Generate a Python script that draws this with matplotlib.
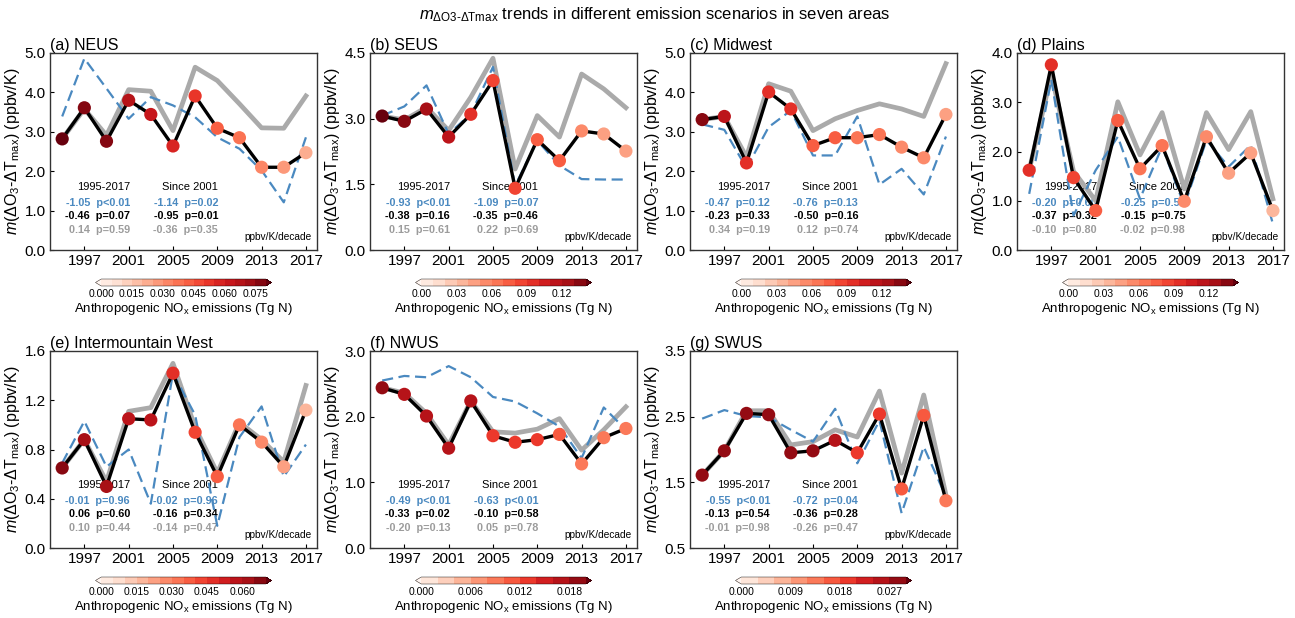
import numpy as np
import matplotlib
matplotlib.use('Agg')
import matplotlib.pyplot as plt
from matplotlib.colors import BoundaryNorm

plt.rcParams['font.family'] = ['Liberation Sans', 'DejaVu Sans']
plt.rcParams['mathtext.fontset'] = 'custom'
plt.rcParams['mathtext.rm'] = 'Liberation Sans'
plt.rcParams['mathtext.it'] = 'Liberation Sans:italic'
plt.rcParams['mathtext.bf'] = 'Liberation Sans:bold'

years = [1995, 1997, 1999, 2001, 2003, 2005, 2007, 2009, 2011, 2013, 2015, 2017]
xticks = [1997, 2001, 2005, 2009, 2013, 2017]

titles = ['(a) NEUS', '(b) SEUS', '(c) Midwest', '(d) Plains',
          '(e) Intermountain West', '(f) NWUS', '(g) SWUS']

# black line with markers (base scenario)
black = [
    [2.82, 3.61, 2.76, 3.80, 3.44, 2.64, 3.91, 3.09, 2.85, 2.10, 2.10, 2.47],
    [3.06, 2.94, 3.22, 2.58, 3.10, 3.87, 1.41, 2.52, 2.04, 2.72, 2.65, 2.26],
    [3.31, 3.39, 2.21, 4.01, 3.58, 2.65, 2.85, 2.85, 2.93, 2.61, 2.34, 3.44],
    [1.62, 3.76, 1.47, 0.80, 2.63, 1.65, 2.12, 0.99, 2.30, 1.56, 1.97, 0.80],
    [0.65, 0.88, 0.50, 1.05, 1.04, 1.42, 0.94, 0.58, 1.00, 0.86, 0.66, 1.12],
    [2.44, 2.34, 2.01, 1.52, 2.24, 1.71, 1.61, 1.65, 1.73, 1.28, 1.68, 1.82],
    [1.61, 1.98, 2.55, 2.53, 1.95, 1.98, 2.14, 1.95, 2.54, 1.40, 2.52, 1.22],
]
# gray line
gray = [
    [2.82, 3.58, 2.91, 4.07, 4.03, 3.03, 4.64, 4.30, 3.71, 3.10, 3.09, 3.91],
    [3.06, 2.97, 3.26, 2.73, 3.49, 4.38, 1.85, 3.07, 2.58, 4.02, 3.68, 3.25],
    [3.31, 3.39, 2.36, 4.22, 4.03, 3.03, 3.33, 3.54, 3.71, 3.58, 3.39, 4.73],
    [1.62, 3.56, 1.60, 1.00, 3.01, 1.93, 2.79, 1.24, 2.79, 2.04, 2.81, 1.04],
    [0.65, 0.88, 0.54, 1.11, 1.14, 1.50, 0.98, 0.61, 1.02, 0.88, 0.70, 1.32],
    [2.44, 2.36, 2.05, 1.57, 2.24, 1.77, 1.75, 1.81, 1.97, 1.49, 1.80, 2.15],
    [1.61, 1.98, 2.59, 2.59, 2.07, 2.12, 2.30, 2.19, 2.89, 1.64, 2.83, 1.31],
]
# blue dashed line
blue = [
    [3.39, 4.86, 4.10, 3.33, 3.88, 3.67, 3.37, 2.86, 2.57, 2.02, 1.21, 2.86],
    [3.07, 3.28, 3.76, 2.65, 3.11, 4.18, 1.47, 2.50, 1.93, 1.62, 1.61, 1.61],
    [3.19, 3.05, 2.08, 3.12, 3.54, 2.40, 2.40, 3.39, 1.66, 2.06, 1.41, 2.88],
    [1.14, 3.46, 0.70, 1.62, 2.30, 1.04, 2.10, 0.90, 2.23, 1.69, 2.13, 0.53],
    [0.69, 1.03, 0.66, 0.80, 0.36, 1.42, 1.08, 0.18, 0.90, 1.15, 0.58, 0.84],
    [2.55, 2.62, 2.60, 2.77, 2.60, 2.30, 2.23, 2.05, 1.85, 1.37, 2.14, 1.80],
    [2.47, 2.60, 2.51, 2.49, 2.30, 2.12, 2.62, 1.79, 2.44, 1.03, 2.04, 1.28],
]
# anthropogenic NOx emissions (Tg N) -> marker colour
nox = [
    [0.080, 0.078, 0.076, 0.068, 0.062, 0.056, 0.052, 0.042, 0.038, 0.030, 0.028, 0.022],
    [0.140, 0.130, 0.120, 0.115, 0.092, 0.088, 0.082, 0.072, 0.070, 0.050, 0.046, 0.040],
    [0.132, 0.112, 0.095, 0.095, 0.090, 0.076, 0.072, 0.060, 0.064, 0.054, 0.050, 0.040],
    [0.090, 0.090, 0.080, 0.076, 0.070, 0.060, 0.060, 0.050, 0.050, 0.040, 0.040, 0.034],
    [0.068, 0.062, 0.062, 0.055, 0.055, 0.045, 0.042, 0.036, 0.032, 0.026, 0.024, 0.018],
    [0.019, 0.0175, 0.016, 0.0165, 0.0165, 0.013, 0.013, 0.012, 0.011, 0.0095, 0.009, 0.009],
    [0.029, 0.029, 0.029, 0.028, 0.028, 0.027, 0.024, 0.020, 0.019, 0.016, 0.016, 0.013],
]

ylims = [(0, 5), (0, 4.5), (0, 5), (0, 4), (0, 1.6), (0, 3), (0.5, 3.5)]
yticks = [np.arange(0, 5.1, 1.0), [0, 1.5, 3.0, 4.5], np.arange(0, 5.1, 1.0),
          np.arange(0, 4.1, 1.0), [0, 0.4, 0.8, 1.2, 1.6], [0, 1, 2, 3],
          [0.5, 1.5, 2.5, 3.5]]

# colorbar ranges: vmax, number of cells, tick step, tick format
cb_max = [0.08, 0.14, 0.14, 0.14, 0.07, 0.02, 0.03]
cb_n = [16, 14, 14, 14, 14, 10, 10]
cb_step = [0.015, 0.03, 0.03, 0.03, 0.015, 0.006, 0.009]
cb_fmt = ['%.3f', '%.2f', '%.2f', '%.2f', '%.3f', '%.3f', '%.3f']

# trends (ppbv/K/decade): [1995-2017, since 2001]
tr_blue = [[('-1.05', 'p<0.01'), ('-1.14', 'p=0.02')],
           [('-0.93', 'p<0.01'), ('-1.09', 'p=0.07')],
           [('-0.47', 'p=0.12'), ('-0.76', 'p=0.13')],
           [('-0.20', 'p=0.60'), ('-0.25', 'p=0.59')],
           [('-0.01', 'p=0.96'), ('-0.02', 'p=0.96')],
           [('-0.49', 'p<0.01'), ('-0.63', 'p<0.01')],
           [('-0.55', 'p<0.01'), ('-0.72', 'p=0.04')]]
tr_black = [[('-0.46', 'p=0.07'), ('-0.95', 'p=0.01')],
            [('-0.38', 'p=0.16'), ('-0.35', 'p=0.46')],
            [('-0.23', 'p=0.33'), ('-0.50', 'p=0.16')],
            [('-0.37', 'p=0.32'), ('-0.15', 'p=0.75')],
            [('0.06', 'p=0.60'), ('-0.16', 'p=0.34')],
            [('-0.33', 'p=0.02'), ('-0.10', 'p=0.58')],
            [('-0.13', 'p=0.54'), ('-0.36', 'p=0.28')]]
tr_gray = [[('0.14', 'p=0.59'), ('-0.36', 'p=0.35')],
           [('0.15', 'p=0.61'), ('0.22', 'p=0.69')],
           [('0.34', 'p=0.19'), ('0.12', 'p=0.74')],
           [('-0.10', 'p=0.80'), ('-0.02', 'p=0.98')],
           [('0.10', 'p=0.44'), ('-0.14', 'p=0.47')],
           [('-0.20', 'p=0.13'), ('0.05', 'p=0.78')],
           [('-0.01', 'p=0.98'), ('-0.26', 'p=0.47')]]

BLUE = '#4a89c0'
GRAY = '#aaaaaa'
TGRAY = '#9c9c9c'

W, H = 1295, 618
fig = plt.figure(figsize=(W / 100, H / 100), dpi=100)

lefts = [50, 370, 690, 1017, 50, 370, 690]
tops = [53, 53, 53, 53, 351, 351, 351]
aw, ah = 267, 197

fig.text(655 / W, 1 - 15 / H,
         r'$\mathit{m}_{\mathrm{\Delta O3\text{-}\Delta Tmax}}$ trends in different emission scenarios in seven areas',
         ha='center', va='center', fontsize=12)

for i in range(7):
    l, t = lefts[i], tops[i]
    ax = fig.add_axes([l / W, 1 - (t + ah) / H, aw / W, ah / H])
    levels = np.linspace(0, cb_max[i], cb_n[i] + 1)
    cmap = plt.get_cmap('Reds', cb_n[i] + 2)
    norm = BoundaryNorm(levels, ncolors=cb_n[i] + 2, extend='both')

    ax.plot(years, gray[i], color=GRAY, lw=3.4, zorder=2)
    ax.plot(years, blue[i], color=BLUE, lw=1.6, ls=(0, (5, 2.5)), zorder=3)
    ax.plot(years, black[i], color='black', lw=2.4, zorder=4)
    sc = ax.scatter(years, black[i], c=nox[i], cmap=cmap, norm=norm, s=90,
                    edgecolors='none', zorder=5)

    ax.set_xlim(1993.9, 2018)
    ax.set_ylim(*ylims[i])
    ax.set_xticks(xticks)
    ax.set_yticks(yticks[i])
    ax.set_yticklabels(['%.1f' % v for v in yticks[i]])
    ax.tick_params(direction='in', length=3, labelsize=11, pad=3)
    for s in ax.spines.values():
        s.set_linewidth(1.0)
        s.set_color('#333333')
    ax.set_title(titles[i], loc='left', fontsize=11.5, pad=2)
    ax.set_ylabel(r'$\mathit{m}(\Delta\mathrm{O_3}\text{-}\Delta\mathrm{T_{max}})$ (ppbv/K)',
                  fontsize=11.5, labelpad=2)

    # trend text
    for cx, head, col in [(0.30, '1995-2017', 0), (0.63, 'Since 2001', 1)]:
        ax.text(cx, 0.32, head, transform=ax.transAxes, ha='right', va='center',
                fontsize=8, zorder=1)
        for yy, tr, c in [(0.237, tr_blue, BLUE), (0.171, tr_black, 'black'),
                          (0.100, tr_gray, TGRAY)]:
            v, p = tr[i][col]
            ax.text(cx, yy, v + '  ' + p, transform=ax.transAxes, ha='right',
                    va='center', fontsize=7.8, color=c, fontweight='bold', zorder=1)
    ax.text(0.98, 0.068, 'ppbv/K/decade', transform=ax.transAxes, ha='right',
            va='center', fontsize=7.3, zorder=1)

    # colorbar under each panel
    cw = 176
    cx0 = l + (aw - cw) / 2
    cy = t + ah + 29
    cax = fig.add_axes([cx0 / W, 1 - (cy + 7) / H, cw / W, 7 / H])
    cb = fig.colorbar(sc, cax=cax, orientation='horizontal', extend='both',
                      extendfrac=0.035, drawedges=False)
    cb.outline.set_linewidth(0.3)
    cb.set_ticks(np.arange(0, cb_max[i] - 1e-9, cb_step[i]))
    cb.minorticks_off()
    cb.ax.xaxis.set_major_formatter(plt.FormatStrFormatter(cb_fmt[i]))
    cb.ax.tick_params(which='both', length=0, labelsize=7.5, pad=2.5)
    cb.set_label(r'Anthropogenic NO$_\mathrm{x}$ emissions (Tg N)', fontsize=9.5, labelpad=1)

fig.savefig('out.png', dpi=100)
